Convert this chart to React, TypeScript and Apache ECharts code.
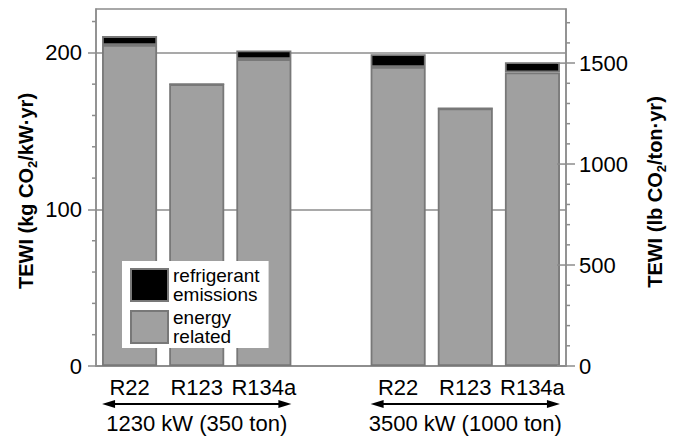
import React, { useEffect, useRef } from 'react';
import * as echarts from 'echarts';

const categories = ['R22', 'R123', 'R134a', '', 'R22', 'R123', 'R134a'];
const energyRelated = [205, 180, 196, null, 191, 164.5, 187.5];
const refrigerantEmissions = [5.7, 0, 5.5, null, 8.1, 0, 6.5];

const leftMajorTicks = [0, 100, 200];
const leftMinorTicks = [20, 40, 60, 80, 120, 140, 160, 180, 220];
const rightMajorTicks = [0, 500, 1000, 1500];
const rightMinorTicks = [100, 200, 300, 400, 600, 700, 800, 900, 1100, 1200, 1300, 1400, 1600, 1700];

const leftMax = 228;
const KG_PER_KW_TO_LB_PER_TON = 7.754;
const rightMax = leftMax * KG_PER_KW_TO_LB_PER_TON;

const groupLabels = ['1230 kW (350 ton)', '3500 kW (1000 ton)'];
const groupRanges = [[0, 2], [4, 6]];
const groupCenters = [1, 5];

const FONT = 'Liberation Sans, Arial, Helvetica, sans-serif';
const LINE = '#8c8c8c';
const BAR_GAP = 0.18;

export default function App() {
  const ref = useRef<HTMLDivElement>(null);

  useEffect(() => {
    if (!ref.current) return;
    const chart = echarts.init(ref.current, undefined, { renderer: 'svg' });

    const lineStyle = { color: LINE, width: 1.5 };

    const option: any = {
      animation: false,
      textStyle: { fontFamily: FONT },
      grid: {
        left: 96,
        right: 114,
        top: 9,
        bottom: 70,
        containLabel: false,
        show: true,
        borderColor: LINE,
        borderWidth: 1.5,
        backgroundColor: 'transparent',
      },
      legend: {
        left: 122,
        top: 261,
        orient: 'vertical',
        backgroundColor: '#fff',
        padding: [5, 9, 2, 8],
        itemGap: 4,
        itemWidth: 37,
        itemHeight: 32,
        icon: 'rect',
        selectedMode: false,
        data: ['refrigerant\nemissions', 'energy\nrelated'],
        textStyle: { fontSize: 19, lineHeight: 19, color: '#000', fontFamily: FONT },
      },
      xAxis: {
        type: 'category',
        data: categories,
        axisLine: { show: true, lineStyle },
        axisTick: { show: false },
        axisLabel: { fontSize: 22, color: '#000', margin: 10, interval: 0, fontFamily: FONT },
      },
      yAxis: [
        {
          type: 'value',
          position: 'left',
          min: 0,
          max: leftMax,
          axisLine: { show: true, lineStyle },
          axisTick: { show: true, length: 8, lineStyle, customValues: leftMajorTicks },
          axisLabel: {
            fontSize: 22,
            color: '#000',
            margin: 14,
            customValues: leftMajorTicks,
            fontFamily: FONT,
            padding: [6, 0, 0, 0],
            formatter: (v: number) => String(v),
          },
          splitLine: { show: true, lineStyle },
        },
        {
          type: 'value',
          position: 'right',
          min: 0,
          max: rightMax,
          axisLine: { show: true, lineStyle },
          axisTick: { show: true, length: 9, lineStyle, customValues: rightMajorTicks },
          axisLabel: {
            fontSize: 22,
            color: '#000',
            margin: 13,
            customValues: rightMajorTicks,
            fontFamily: FONT,
            padding: [6, 0, 0, 0],
            formatter: (v: number) => String(v),
          },
          splitLine: { show: false },
        },
      ],
      series: [
        {
          name: 'energy\nrelated',
          type: 'bar',
          stack: 'tewi',
          yAxisIndex: 0,
          data: energyRelated,
          barCategoryGap: `${BAR_GAP * 100}%`,
          itemStyle: { color: '#a0a0a0', borderColor: '#787878', borderWidth: 1.8 },
        },
        {
          name: 'refrigerant\nemissions',
          type: 'bar',
          stack: 'tewi',
          yAxisIndex: 0,
          data: refrigerantEmissions,
          barCategoryGap: `${BAR_GAP * 100}%`,
          itemStyle: { color: '#000000', borderColor: '#787878', borderWidth: 1.8 },
        },
      ],
    };

    chart.setOption(option);

    const toY = (axis: number, v: number) => {
      const r: any = chart.convertToPixel({ xAxisIndex: 0, yAxisIndex: axis }, [0, v]);
      return Array.isArray(r) ? r[1] : r;
    };
    const px = (i: number) => (chart.convertToPixel({ xAxisIndex: 0, yAxisIndex: 0 }, [i, 0]) as number[])[0];
    const pyL = (v: number) => toY(0, v);
    const pyR = (v: number) => toY(1, v);
    const leftX = 96;
    const rightX = 566;
    const graphics: any[] = [];

    const tick = (x1: number, x2: number, y: number) => ({
      type: 'polyline',
      z: 10,
      silent: true,
      shape: { points: [[x1, y], [x2, y]] },
      style: { stroke: LINE, lineWidth: 1.5, fill: null },
    });

    leftMinorTicks.forEach((v) => graphics.push(tick(leftX - 4, leftX, pyL(v))));
    rightMinorTicks.forEach((v) => graphics.push(tick(rightX, rightX + 4, pyR(v))));
    rightMajorTicks.forEach((v) => graphics.push(tick(rightX - 9, rightX, pyR(v))));

    const band = px(1) - px(0);
    const halfBar = (band * (1 - BAR_GAP)) / 2;
    const arrowY = 404;
    const head = 13;

    groupRanges.forEach(([a, b], gi) => {
      const x1 = px(a) - halfBar;
      const x2 = px(b) + halfBar;
      graphics.push({
        type: 'line',
        shape: { x1: x1 + head - 2, y1: arrowY, x2: x2 - head + 2, y2: arrowY },
        style: { stroke: '#000', lineWidth: 2 },
      });
      graphics.push({
        type: 'polygon',
        shape: { points: [[x1, arrowY], [x1 + head, arrowY - 4], [x1 + head, arrowY + 4]] },
        style: { fill: '#000' },
      });
      graphics.push({
        type: 'polygon',
        shape: { points: [[x2, arrowY], [x2 - head, arrowY - 4], [x2 - head, arrowY + 4]] },
        style: { fill: '#000' },
      });
      graphics.push({
        type: 'text',
        x: px(groupCenters[gi]),
        y: 423,
        style: {
          text: groupLabels[gi],
          fontSize: 22,
          fontFamily: FONT,
          fill: '#000',
          align: 'center',
          verticalAlign: 'middle',
        },
      });
    });

    const titleRich = {
      b: { fontSize: 20, fontWeight: 'bold', fontFamily: FONT, fill: '#000' },
      s: { fontSize: 13, fontWeight: 'bold', fontFamily: FONT, fill: '#000', padding: [12, 0, 0, 0] },
    };
    graphics.push({
      type: 'text',
      x: 26,
      y: 191,
      rotation: Math.PI / 2,
      style: {
        text: '{b|TEWI (kg CO}{s|2}{b|/kW·yr)}',
        rich: titleRich,
        align: 'center',
        verticalAlign: 'middle',
        fill: '#000',
      },
    });
    graphics.push({
      type: 'text',
      x: 655,
      y: 192,
      rotation: Math.PI / 2,
      style: {
        text: '{b|TEWI (lb CO}{s|2}{b|/ton·yr)}',
        rich: titleRich,
        align: 'center',
        verticalAlign: 'middle',
        fill: '#000',
      },
    });

    chart.setOption({ graphic: graphics });

    return () => chart.dispose();
  }, []);

  return (
    <div
      ref={ref}
      style={{ position: 'absolute', left: 0, top: 0, width: 680, height: 436 }}
    />
  );
}
